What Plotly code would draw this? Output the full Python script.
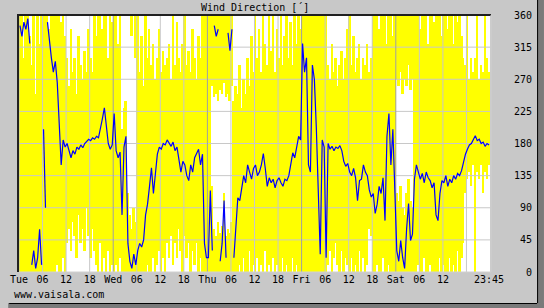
import plotly.graph_objects as go

# ---------------- data (half-hourly, Tue 00:00 .. Sat 23:30) ----------------
# mean wind direction [deg]
mean_tue = [345, 330, 350, 340, 355, 320, 10, 30, 5, 20, 60, 10,
            200, 90, 350, 320, 300, 280, 295, 265, 215, 150, 185, 175,
            180, 168, 160, 170, 165, 175, 172, 178, 174, 180, 183, 186,
            184, 188, 186, 190, 188, 200, 215, 230, 205, 180, 172, 178]
mean_wed = [222, 170, 160, 168, 80, 175, 190, 40, 15, 5, 25, 10,
            30, 40, 35, 45, 80, 95, 120, 146, 110, 140, 165, 175,
            172, 180, 178, 185, 180, 176, 182, 170, 175, 160, 140, 155,
            150, 135, 128, 150, 140, 160, 165, 172, 150, 165, 40, 20]
mean_thu = [20, 114, 30, 345, 330, 340, 15, 40, 100, 20, 335, 310,
            340, 20, 60, 104, 100, 120, 135, 125, 150, 140, 130, 145,
            150, 135, 140, 150, 166, 145, 120, 132, 125, 130, 118, 128,
            132, 125, 120, 130, 128, 135, 150, 167, 160, 175, 190, 185]
mean_fri = [320, 280, 300, 150, 140, 290, 270, 202, 100, 25, 185, 175,
            20, 180, 172, 176, 170, 175, 173, 177, 170, 155, 148, 152,
            140, 135, 145, 132, 100, 128, 130, 150, 140, 135, 115, 105,
            110, 82, 95, 120, 110, 132, 72, 190, 222, 150, 200, 100]
mean_sat = [30, 15, 44, 20, 5, 60, 96, 44, 53, 130, 150, 140,
            130, 138, 125, 140, 132, 128, 118, 125, 80, 72, 110, 128,
            125, 135, 120, 130, 125, 135, 130, 138, 135, 142, 155, 165,
            172, 178, 180, 185, 191, 184, 186, 180, 182, 176, 180, 178]

# range of direction (min, max); min > max means the range wraps through north
min_tue = [0, 0, 0, 0, 0, 0, 0, 0, 0, 0, 0, 0,
           0, 0, 0, 0, 0, 0, 0, 10, 0, 0, 20, 0,
           40, 60, 30, 70, 50, 20, 80, 40, 60, 30, 90, 50,
           20, 60, 30, 10, 0, 40, 0, 20, 0, 30, 0, 10]
max_tue = [360, 360, 300, 360, 360, 330, 290, 360, 250, 360, 320, 360,
           360, 360, 360, 340, 360, 360, 360, 360, 360, 350, 360, 330,
           300, 260, 340, 280, 300, 250, 330, 290, 270, 310, 280, 340,
           300, 280, 360, 330, 360, 360, 340, 360, 360, 300, 360, 350]
min_wed = [0, 10, 0, 20, 0, 0, 0, 0, 0, 330, 0, 300,
           0, 0, 0, 0, 0, 10, 0, 0, 20, 0, 10, 30,
           0, 20, 0, 40, 20, 50, 10, 40, 20, 60, 30, 0,
           50, 20, 40, 0, 30, 10, 40, 0, 20, 0, 0, 0]
max_wed = [360, 360, 320, 360, 200, 230, 240, 110, 80, 60, 90, 70,
           360, 280, 330, 260, 360, 300, 340, 290, 320, 270, 300, 340,
           280, 310, 290, 300, 320, 270, 360, 290, 350, 300, 280, 320,
           360, 290, 310, 280, 340, 300, 270, 330, 300, 360, 360, 360]
min_thu = [0, 0, 260, 245, 250, 240, 255, 250, 265, 245, 250, 240,
           260, 0, 0, 0, 10, 0, 20, 0, 0, 30, 0, 10,
           0, 20, 0, 10, 0, 30, 0, 10, 0, 20, 0, 10,
           0, 0, 20, 0, 10, 0, 0, 20, 0, 10, 0, 0]
max_thu = [360, 360, 120, 60, 50, 70, 55, 65, 110, 50, 60, 55,
           70, 240, 260, 250, 290, 230, 270, 250, 300, 260, 330, 280,
           360, 300, 340, 280, 360, 320, 290, 360, 310, 360, 280, 340,
           300, 360, 290, 330, 360, 300, 350, 290, 360, 320, 360, 340]
min_fri = [0, 0, 0, 0, 0, 0, 0, 0, 0, 0, 0, 0,
           0, 10, 30, 0, 20, 40, 10, 0, 30, 0, 20, 10,
           0, 20, 0, 10, 0, 30, 0, 20, 0, 10, 60, 50,
           0, 0, 10, 0, 0, 20, 0, 0, 10, 0, 0, 0]
max_fri = [360, 360, 360, 360, 360, 360, 360, 360, 360, 360, 360, 360,
           360, 290, 270, 320, 280, 300, 260, 290, 310, 270, 300, 340,
           360, 290, 330, 280, 300, 320, 270, 300, 290, 320, 280, 300,
           360, 360, 360, 340, 360, 360, 360, 320, 360, 360, 330, 360]
min_sat = [270, 260, 280, 250, 270, 260, 290, 255, 270, 0, 0, 10,
           0, 0, 20, 0, 0, 10, 0, 0, 0, 0, 20, 0,
           10, 0, 0, 20, 0, 10, 0, 30, 0, 20, 40, 110,
           130, 140, 120, 150, 0, 140, 130, 150, 110, 140, 130, 150]
max_sat = [110, 100, 120, 90, 80, 110, 130, 100, 90, 360, 360, 360,
           340, 360, 360, 360, 320, 360, 360, 350, 360, 360, 360, 330,
           360, 360, 340, 360, 360, 320, 360, 350, 360, 330, 300, 290,
           360, 270, 300, 280, 300, 360, 270, 290, 280, 360, 300, 280]

mean_dir = mean_tue + mean_wed + mean_thu + mean_fri + mean_sat
dir_min = min_tue + min_wed + min_thu + min_fri + min_sat
dir_max = max_tue + max_wed + max_thu + max_fri + max_sat
step_h = 0.5  # hours per sample

x_tick_hours = [0, 6, 12, 18, 24, 30, 36, 42, 48, 54, 60, 66, 72, 78, 84, 90, 96, 102, 108, 114, 119.75]
x_tick_text = ["Tue", "06", "12", "18", "Wed", "06", "12", "18", "Thu", "06", "12", "18",
               "Fri", "06", "12", "18", "Sat", "06", "12", "", "23:45"]
day_hours = [24, 48, 72, 96]
y_ticks = [0, 45, 90, 135, 180, 225, 270, 315, 360]

# ---------------- geometry helpers ----------------
W, H = 544, 308
L, R, T, B = 10, 54, 15, 36
PW, PH = W - L - R, H - T - B


def px(xpix):
    return (xpix - L) / PW


def py(ypix):
    return (H - B - ypix) / PH


fig = go.Figure()

# yellow min..max bars
bx, bbase, bh = [], [], []
for i, (lo, hi) in enumerate(zip(dir_min, dir_max)):
    c = (i + 0.5) * step_h
    if lo <= hi:
        bx.append(c); bbase.append(lo); bh.append(hi - lo)
    else:
        bx.append(c); bbase.append(lo); bh.append(360 - lo)
        bx.append(c); bbase.append(0); bh.append(hi)
fig.add_trace(go.Bar(x=bx, y=bh, base=bbase, width=step_h,
                     marker=dict(color="#FFFF00", line=dict(width=0)), hoverinfo="skip"))

# grid lines (drawn over the yellow, under the mean line)
gx, gy = [], []
for h in x_tick_hours[:-1]:
    if h not in day_hours:
        gx += [h, h, None]; gy += [0, 360, None]
for v in y_ticks[1:-1]:
    gx += [0, 120, None]; gy += [v, v, None]
fig.add_trace(go.Scatter(x=gx, y=gy, mode="lines", line=dict(color="#C8C8C8", width=1), hoverinfo="skip"))
dx, dy = [], []
for h in day_hours:
    dx += [h, h, None]; dy += [0, 360, None]
fig.add_trace(go.Scatter(x=dx, y=dy, mode="lines", line=dict(color="#A0A0A0", width=1), hoverinfo="skip"))

# mean direction line, broken where it wraps through north
lx, ly = [], []
for i, v in enumerate(mean_dir):
    if i > 0 and abs(v - mean_dir[i - 1]) > 180:
        lx.append(None); ly.append(None)
    lx.append((i + 0.5) * step_h); ly.append(v)
fig.add_trace(go.Scatter(x=lx, y=ly, mode="lines", line=dict(color="#0000FF", width=1.2), hoverinfo="skip"))

shapes = [
    # frame: dark top/left, light right/bottom
    dict(type="line", xref="paper", yref="paper", x0=px(8), x1=px(491), y0=py(15), y1=py(15),
         line=dict(color="#202020", width=2), layer="above"),
    dict(type="line", xref="paper", yref="paper", x0=px(9), x1=px(9), y0=py(14), y1=py(272),
         line=dict(color="#202020", width=2), layer="above"),
    dict(type="line", xref="paper", yref="paper", x0=px(491), x1=px(491), y0=py(15), y1=py(272),
         line=dict(color="#D0D0D0", width=1), layer="above"),
    dict(type="line", xref="paper", yref="paper", x0=px(10), x1=px(491), y0=py(272), y1=py(272),
         line=dict(color="#D0D0D0", width=1), layer="above"),
    # drop shadow of the panel
    dict(type="rect", xref="paper", yref="paper", x0=px(538), x1=px(545), y0=py(-1), y1=py(309),
         fillcolor="#7A7A7A", line=dict(width=0), layer="above"),
    dict(type="rect", xref="paper", yref="paper", x0=px(-1), x1=px(545), y0=py(303), y1=py(309),
         fillcolor="#7A7A7A", line=dict(width=0), layer="above"),
    dict(type="line", xref="paper", yref="paper", x0=px(538.5), x1=px(538.5), y0=py(0), y1=py(303),
         line=dict(color="#000000", width=1), layer="above"),
    dict(type="line", xref="paper", yref="paper", x0=px(0), x1=px(538), y0=py(303.5), y1=py(303.5),
         line=dict(color="#000000", width=1), layer="above"),
]

annotations = [
    dict(text="Wind Direction [´]", xref="paper", yref="paper", x=px(250), y=py(7),
         xanchor="center", yanchor="middle", showarrow=False),
    dict(text="www.vaisala.com", xref="paper", yref="paper", x=px(3), y=py(294),
         xanchor="left", yanchor="middle", showarrow=False),
]
for v in y_ticks:
    annotations.append(dict(text=str(v), xref="paper", yref="y", x=px(535), y=v,
                            xanchor="right", yanchor="middle", showarrow=False))

fig.update_layout(
    width=W, height=H, margin=dict(l=L, r=R, t=T, b=B, pad=0),
    paper_bgcolor="#C8C8C8", plot_bgcolor="#FFFFFF",
    showlegend=False, barmode="overlay", bargap=0,
    font=dict(family="DejaVu Sans Mono", size=10, color="#000000"),
    shapes=shapes, annotations=annotations,
    xaxis=dict(range=[0, 120], tickvals=x_tick_hours, ticktext=x_tick_text, showgrid=False,
               zeroline=False, showline=False, ticks="", tickangle=0, fixedrange=True),
    yaxis=dict(range=[0, 360], showticklabels=False, showgrid=False, zeroline=False,
               showline=False, fixedrange=True),
)

fig.write_html("out.html")
